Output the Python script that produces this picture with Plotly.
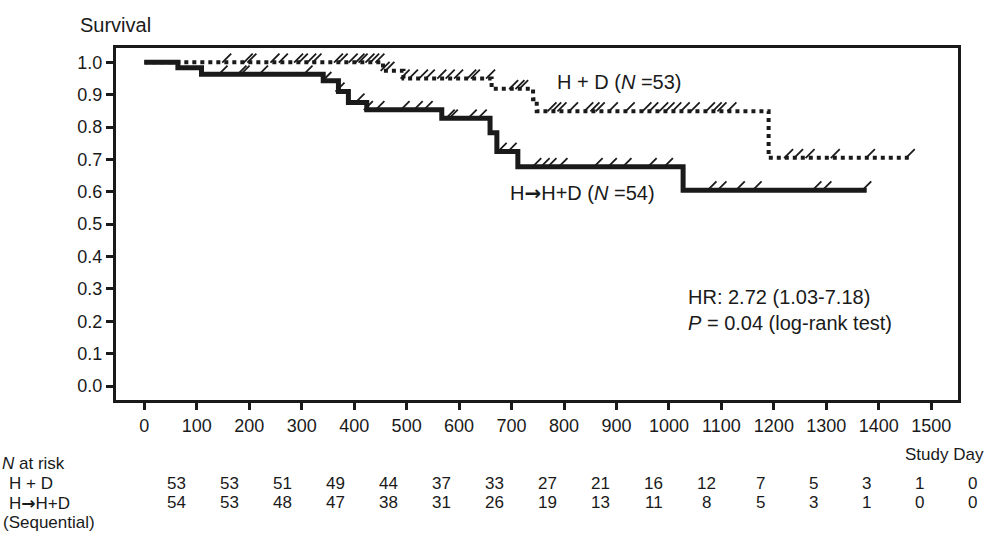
import plotly.graph_objects as go

# ---- data ----
# H + D arm: step times (days) and survival after each step
hd_times = [0, 455, 494, 662, 741, 748, 1190]
hd_surv = [1.0, 0.974, 0.950, 0.918, 0.886, 0.849, 0.705]
hd_end = 1463
hd_censor = [157, 198, 205, 249, 265, 294, 303, 319, 329, 370, 379, 398, 411, 417,
             430, 439, 449, 459, 468, 497, 513, 532, 545, 567, 583, 599, 624, 631,
             660, 704, 716, 723, 777, 786, 796, 818, 847, 859, 869, 894, 926, 958,
             971, 990, 1002, 1015, 1031, 1050, 1079, 1092, 1101, 1120, 1228, 1247,
             1269, 1317, 1384, 1460]

# H -> H+D (sequential) arm
hhd_times = [0, 64, 109, 341, 370, 389, 424, 567, 659, 672, 712, 1027]
hhd_surv = [1.0, 0.983, 0.963, 0.943, 0.910, 0.876, 0.853, 0.827, 0.782, 0.724, 0.677, 0.605]
hhd_end = 1377
hhd_censor = [150, 186, 192, 227, 312, 348, 373, 411, 427, 449, 497, 522, 541, 583,
              589, 625, 644, 682, 701, 748, 764, 777, 798, 865, 892, 920, 968, 999,
              1082, 1101, 1136, 1168, 1282, 1301, 1377]

# number at risk table
risk_days = [0, 100, 200, 300, 400, 500, 600, 700, 800, 900, 1000, 1100, 1200, 1300, 1400, 1500]
risk_hd = [53, 53, 51, 49, 44, 37, 33, 27, 21, 16, 12, 7, 5, 3, 1, 0]
risk_hhd = [54, 53, 48, 47, 38, 31, 26, 19, 13, 11, 8, 5, 3, 1, 0, 0]

x_ticks = list(range(0, 1501, 100))
y_ticks = [round(i * 0.1, 1) for i in range(11)]

INK = "#1a1a1a"
FONT = "Liberation Sans, Arial, Helvetica, sans-serif"
ARROW = "<span style='font-family:DejaVu Sans;font-weight:bold'>\u2192</span>"


def surv_at(times, surv, t):
    s = surv[0]
    for ti, si in zip(times, surv):
        if t >= ti:
            s = si
    return s


fig = go.Figure()

# step curves
fig.add_trace(go.Scatter(
    x=hd_times + [hd_end], y=hd_surv + [hd_surv[-1]], mode="lines",
    line=dict(color=INK, width=4, dash="4px,4px", shape="hv"), showlegend=False))
fig.add_trace(go.Scatter(
    x=hhd_times + [hhd_end], y=hhd_surv + [hhd_surv[-1]], mode="lines",
    line=dict(color=INK, width=5, shape="hv"), showlegend=False))

# censor marks (small slanted ticks sitting on the curve)
off = 0.013
fig.add_trace(go.Scatter(
    x=hd_censor, y=[surv_at(hd_times, hd_surv, t) + off for t in hd_censor],
    mode="markers", marker=dict(symbol="line-ne", size=9, line=dict(width=1.8, color=INK)),
    showlegend=False))
fig.add_trace(go.Scatter(
    x=hhd_censor, y=[surv_at(hhd_times, hhd_surv, t) + off for t in hhd_censor],
    mode="markers", marker=dict(symbol="line-ne", size=9, line=dict(width=1.8, color=INK)),
    showlegend=False))

ann = []
ann.append(dict(text="Survival", xref="paper", yref="paper", x=-0.045, y=1.065,
                xanchor="left", yanchor="middle", showarrow=False,
                font=dict(size=20, color=INK, family=FONT)))
ann.append(dict(text="H + D (<i>N</i> =53)", x=783, y=0.939, xanchor="left",
                yanchor="middle", showarrow=False, font=dict(size=20, color=INK, family=FONT)))
ann.append(dict(text="H" + ARROW + "H+D (<i>N</i> =54)", x=693, y=0.596, xanchor="left",
                yanchor="middle", showarrow=False, font=dict(size=20, color=INK, family=FONT)))
ann.append(dict(text="HR: 2.72 (1.03-7.18)<br><i>P</i> = 0.04 (log-rank test)", x=1032,
                y=0.235, xanchor="left", yanchor="middle", align="left", showarrow=False,
                font=dict(size=20, color=INK, family=FONT)))

# at-risk table
TS = 17
ann.append(dict(text="<i>N</i> at risk", xref="paper", yref="paper", x=-0.136, y=-0.179,
                xanchor="left", yanchor="middle", showarrow=False, borderpad=0,
                font=dict(size=TS, color=INK, family=FONT)))
ann.append(dict(text="Study Day", xref="paper", yref="paper", x=1.032, y=-0.156,
                xanchor="right", yanchor="middle", showarrow=False, borderpad=0,
                font=dict(size=TS, color=INK, family=FONT)))
ann.append(dict(text="H + D", xref="paper", yref="paper", x=-0.128, y=-0.237,
                xanchor="left", yanchor="middle", showarrow=False, borderpad=0,
                font=dict(size=TS, color=INK, family=FONT)))
ann.append(dict(text="H" + ARROW + "H+D", xref="paper", yref="paper", x=-0.128, y=-0.292,
                xanchor="left", yanchor="middle", showarrow=False, borderpad=0,
                font=dict(size=TS, color=INK, family=FONT)))
ann.append(dict(text="(Sequential)", xref="paper", yref="paper", x=-0.135, y=-0.349,
                xanchor="left", yanchor="middle", showarrow=False, borderpad=0,
                font=dict(size=TS, color=INK, family=FONT)))
for k, (d, a, b) in enumerate(zip(risk_days, risk_hd, risk_hhd)):
    sh = 32 + 0.6 * k
    for val, yy in ((a, -0.237), (b, -0.292)):
        ann.append(dict(text=str(val), x=d, xref="x", yref="paper", y=yy, xshift=sh,
                        xanchor="center", yanchor="middle", showarrow=False, borderpad=0,
                        font=dict(size=TS, color=INK, family=FONT)))

fig.update_layout(
    width=985, height=543, margin=dict(l=116, r=27, t=48, b=143),
    plot_bgcolor="white", paper_bgcolor="white",
    font=dict(family=FONT, color=INK, size=18),
    annotations=ann,
    xaxis=dict(range=[-54, 1551], tickvals=x_ticks, ticks="outside", ticklen=7,
               tickwidth=3, tickcolor=INK, showline=True, linewidth=3, linecolor=INK,
               mirror=True, showgrid=False, zeroline=False, tickfont=dict(size=18)),
    yaxis=dict(range=[-0.043, 1.044], tickvals=y_ticks, ticktext=[f"{v:.1f}" for v in y_ticks],
               ticks="outside", ticklen=7, tickwidth=3, tickcolor=INK, showline=True,
               linewidth=3, linecolor=INK, mirror=True, showgrid=False, zeroline=False,
               tickfont=dict(size=18)),
)

fig.write_html("out.html")
